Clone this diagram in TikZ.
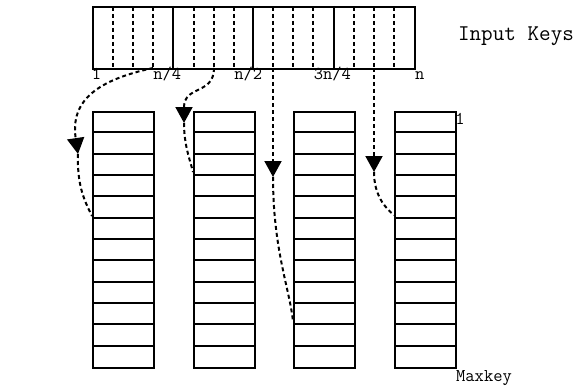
\documentclass[tikz,border=0pt]{standalone}
\usetikzlibrary{arrows.meta}
\begin{document}
\begin{tikzpicture}[x=1pt,y=-1pt,
  box/.style={draw, line width=2pt, inner sep=0pt},
  divider/.style={line width=2pt},
  rowline/.style={line width=2pt},
  slotline/.style={line width=2pt, dash pattern=on 4pt off 3pt},
  link/.style={line width=2pt, dash pattern=on 4pt off 3pt, -{Triangle[width=17pt,length=16pt]}},
  linkrest/.style={line width=2pt, dash pattern=on 4pt off 3pt},
  lbl/.style={font=\fontsize{18}{18}\selectfont\ttfamily, inner sep=0pt, anchor=base},
  biglbl/.style={font=\fontsize{22.5}{22.5}\selectfont\ttfamily, inner sep=0pt, anchor=base},
]
\useasboundingbox (0,0) rectangle (577,385);
\fill[white] (0,0) rectangle (577,385);

% input key array
\node[box, minimum width=322pt, minimum height=62pt, anchor=north west] (keys) at (92,6) {};
\foreach \dx in {173,253,334} {
  \draw[divider] (\dx,6) -- (\dx,68);
}
\foreach \i/\a/\b/\c in {0/113/133/153, 1/194/214/234, 2/273/293/313, 3/354/374/394} {
  \foreach \j/\sx in {1/\a, 2/\b, 3/\c} {
    \draw[slotline] (\sx,7) -- (\sx,68);
    \coordinate (slot-\i-\j) at (\sx,68);
  }
}

% buckets
\foreach \i/\cx in {1/92, 2/193, 3/293, 4/394} {
  \node[box, minimum width=61pt, minimum height=256pt, anchor=north west] (col\i) at (\cx,111) {};
  \foreach \ry in {132,154,175,196,218,239,260,282,303,324,346} {
    \draw[rowline] (\cx,\ry) -- (\cx+61,\ry);
  }
}

% entry points and arrow tips
\coordinate (e1) at (92,216);
\coordinate (e2) at (193,172);
\coordinate (e3) at (293,321.7);
\coordinate (e4) at (394,215);
\coordinate (m1) at (78,154);
\coordinate (m2) at (184,123);
\coordinate (m3) at (273,177);
\coordinate (m4) at (374,172);

% connectors
\draw[link] (slot-0-3) .. controls (98,80) and (70,100) .. (m1);
\draw[linkrest] (m1) .. controls (77,185) and (84,200) .. (e1);

\draw[link] (slot-1-2) .. controls (214,95) and (184,85) .. (m2);
\draw[linkrest] (m2) .. controls (184,145) and (190,160) .. (e2);

\draw[link] (slot-2-1) -- (m3);
\draw[linkrest] (m3) .. controls (273,250) and (290,290) .. (e3);

\draw[link] (slot-3-2) -- (m4);
\draw[linkrest] (m4) .. controls (374,195) and (385,208) .. (e4);

% labels
\node[lbl] (t1) at (96.5,79.3) {1};
\node[lbl] (t2) at (167.2,79.3) {n/4};
\node[lbl] (t3) at (248.3,79.3) {n/2};
\node[lbl] (t4) at (332.3,79.3) {3n/4};
\node[lbl] (t5) at (419.7,79.3) {n};
\node[biglbl] (inp) at (516,41) {Input Keys};
\node[lbl] (first) at (460,124) {1};
\node[lbl] (maxk) at (484,381) {Maxkey};
\end{tikzpicture}
\end{document}
